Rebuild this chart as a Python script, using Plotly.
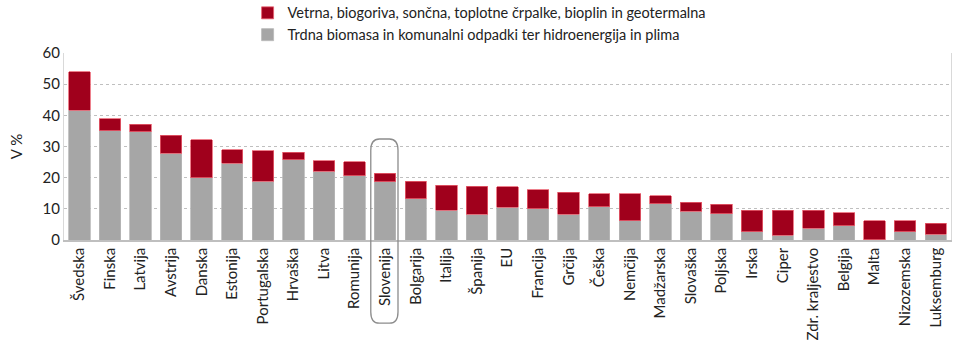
import plotly.graph_objects as go

countries = ["Švedska", "Finska", "Latvija", "Avstrija", "Danska", "Estonija", "Portugalska",
             "Hrvaška", "Litva", "Romunija", "Slovenija", "Bolgarija", "Italija", "Španija", "EU",
             "Francija", "Grčija", "Češka", "Nemčija", "Madžarska", "Slovaška", "Poljska", "Irska",
             "Ciper", "Zdr. kraljestvo", "Belgija", "Malta", "Nizozemska", "Luksemburg"]
total = [54.0, 38.9, 37.2, 33.6, 32.2, 28.9, 28.6, 28.2, 25.5, 25.1, 21.4, 18.9, 17.5, 17.3, 17.1,
         16.1, 15.4, 14.9, 14.9, 14.2, 12.1, 11.4, 9.5, 9.5, 9.5, 8.8, 6.2, 6.2, 5.4]
solid_hydro = [41.6, 35.0, 34.8, 27.8, 19.9, 24.7, 18.9, 25.8, 22.0, 20.6, 18.7, 13.2, 9.5, 8.2, 10.5,
               10.1, 8.3, 10.7, 6.2, 11.6, 9.3, 8.5, 2.7, 1.6, 3.7, 4.5, 0.1, 2.7, 1.8]
other = [round(t - s, 1) for t, s in zip(total, solid_hydro)]

name_other = "Vetrna, biogoriva, sončna, toplotne črpalke, bioplin in geotermalna"
name_solid = "Trdna biomasa in komunalni odpadki ter hidroenergija in plima"
y_ticks = [0, 10, 20, 30, 40, 50, 60]
highlight = "Slovenija"

x = list(range(len(countries)))
FONT = "Lato, 'Open Sans', sans-serif"

fig = go.Figure()
fig.add_trace(go.Bar(x=x, y=solid_hydro, name=name_solid,
                     marker=dict(color="#A6A6A6", line=dict(color="#B8B8B8", width=0.8))))
fig.add_trace(go.Bar(x=x, y=other, name=name_other,
                     marker=dict(color="#A0001C", line=dict(color="#E8606F", width=0.8))))

hi = countries.index(highlight)
x0, x1 = hi - 0.47, hi + 0.42
y0, y1 = -0.445, 0.54
r = 0.06
rx = 0.28
path = (f"M {x0+rx},{y1} L {x1-rx},{y1} Q {x1},{y1} {x1},{y1-r} "
        f"L {x1},{y0+r} Q {x1},{y0} {x1-rx},{y0} L {x0+rx},{y0} Q {x0},{y0} {x0},{y0+r} "
        f"L {x0},{y1-r} Q {x0},{y1} {x0+rx},{y1} Z")
fig.add_shape(type="path", path=path, xref="x", yref="paper",
              line=dict(color="#8C8C8C", width=1.3), fillcolor="rgba(0,0,0,0)", layer="above")

fig.update_layout(
    width=960, height=350,
    margin=dict(l=64, r=9, t=53, b=110, autoexpand=False),
    barmode="stack", bargap=0.3,
    plot_bgcolor="white", paper_bgcolor="white",
    font=dict(family=FONT, size=13, color="#333333"),
    showlegend=True,
    legend=dict(x=0.207, y=1.30, xanchor="left", yanchor="top", traceorder="reversed",
                orientation="v", font=dict(size=14.5, color="#222222"),
                itemwidth=30, tracegroupgap=0, bgcolor="rgba(0,0,0,0)"),
)
fig.update_xaxes(range=[-0.5, len(countries) - 0.5], tickmode="array", tickvals=x, ticktext=countries,
                 tickangle=-90, tickfont=dict(size=15, color="#222222"),
                 showline=True, linecolor="#BFBFBF", linewidth=1.5, showgrid=False, ticks="", zeroline=False)
fig.update_yaxes(range=[0, 60], tickvals=y_ticks, tickfont=dict(size=15, color="#222222"),
                 showgrid=True, gridcolor="#BFBFBF", griddash="dot", gridwidth=1,
                 showline=True, linecolor="#D9D9D9", linewidth=1, mirror=True, zeroline=False,
                 title=dict(text="V %", font=dict(size=15, color="#222222"), standoff=16))

fig.write_html("out.html")
